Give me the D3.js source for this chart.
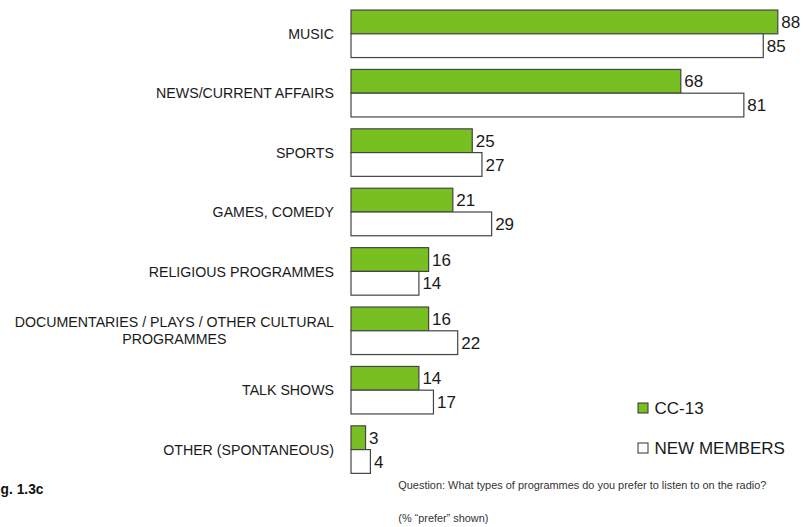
<!DOCTYPE html>
<html>
<head>
<meta charset="utf-8">
<script src="https://cdn.jsdelivr.net/npm/d3@7"></script>
<style>
  html, body { margin: 0; padding: 0; background: #fff; }
  svg { display: block; font-family: "Liberation Sans", Arial, sans-serif; }
</style>
</head>
<body>
<svg id="chart" width="803" height="527"></svg>
<script>
// Preferred radio programme types, % "prefer"
const categories = [
  "MUSIC",
  "NEWS/CURRENT AFFAIRS",
  "SPORTS",
  "GAMES, COMEDY",
  "RELIGIOUS PROGRAMMES",
  "DOCUMENTARIES / PLAYS / OTHER CULTURAL\nPROGRAMMES",
  "TALK SHOWS",
  "OTHER (SPONTANEOUS)"
];
const seriesNames = ["CC-13", "NEW MEMBERS"];
const cc13Values = [88, 68, 25, 21, 16, 16, 14, 3];
const newMemberValues = [85, 81, 27, 29, 14, 22, 17, 4];
const questionText = "Question:  What types of programmes do you prefer to listen to on the radio?";
const noteText = "(% \u201cprefer\u201d shown)";
const figureLabel = "Fig. 1.3c";

const seriesValues = [cc13Values, newMemberValues];
const fills = ["#78c022", "#ffffff"];

const svg = d3.select("#chart");

const x = d3.scaleLinear().domain([0, 100]).range([351, 836]);
const y = d3.scaleBand()
  .domain(categories)
  .range([4.1, 479.3])
  .paddingInner(0.2)
  .paddingOuter(0.1);
const ySeries = d3.scaleBand()
  .domain(seriesNames)
  .range([0, y.bandwidth()]);

const rows = categories.map((c, i) => ({
  category: c,
  bars: seriesNames.map((s, j) => ({ series: s, value: seriesValues[j][i], idx: j }))
}));

const group = svg.append("g").selectAll("g.row")
  .data(rows)
  .join("g")
  .attr("class", "row")
  .attr("transform", d => `translate(0,${y(d.category)})`);

group.selectAll("rect")
  .data(d => d.bars)
  .join("rect")
  .attr("x", x(0))
  .attr("y", d => ySeries(d.series))
  .attr("width", d => x(d.value) - x(0))
  .attr("height", ySeries.bandwidth())
  .attr("fill", d => fills[d.idx])
  .attr("stroke", "#444")
  .attr("stroke-width", 1.2);

group.selectAll("text.value")
  .data(d => d.bars)
  .join("text")
  .attr("class", "value")
  .attr("x", d => x(d.value) + 3.5)
  .attr("y", d => ySeries(d.series) + ySeries.bandwidth() / 2)
  .attr("dy", "0.36em")
  .attr("font-size", 17)
  .attr("fill", "#1a1a1a")
  .text(d => d.value);

// Category labels: block right-aligned to the bars, wrapped lines centred within the block
const labelRight = 334;
const lineHeight = 17;
rows.forEach(r => {
  const lines = r.category.split("\n");
  const cy = y(r.category) + y.bandwidth() / 2;
  const t = svg.append("text")
    .attr("font-size", 14.2)
    .attr("fill", "#1a1a1a");
  lines.forEach((ln, k) => {
    t.append("tspan")
      .attr("y", cy + (k - (lines.length - 1) / 2) * lineHeight)
      .attr("dy", "0.36em")
      .text(ln);
  });
  const spans = t.selectAll("tspan").nodes();
  const widths = spans.map(n => n.getComputedTextLength());
  const maxW = d3.max(widths);
  if (lines.length === 1) {
    t.attr("text-anchor", "end");
    t.selectAll("tspan").attr("x", labelRight);
  } else {
    t.attr("text-anchor", "middle");
    t.selectAll("tspan").attr("x", labelRight - maxW / 2);
  }
});

// Legend
const legend = svg.append("g").selectAll("g")
  .data(seriesNames)
  .join("g")
  .attr("transform", (d, i) => `translate(638,${403 + i * 40})`);
legend.append("rect")
  .attr("width", 10)
  .attr("height", 10)
  .attr("fill", (d, i) => fills[i])
  .attr("stroke", "#333")
  .attr("stroke-width", 1);
legend.append("text")
  .attr("x", 16.5)
  .attr("y", 11)
  .attr("font-size", 17)
  .attr("fill", "#1a1a1a")
  .text(d => d);

// Footnotes
svg.append("text")
  .attr("x", 398.3)
  .attr("y", 489)
  .attr("font-size", 11)
  .attr("fill", "#333")
  .attr("textLength", 368)
  .attr("lengthAdjust", "spacingAndGlyphs")
  .text(questionText);
svg.append("text")
  .attr("x", 398.3)
  .attr("y", 521.5)
  .attr("font-size", 11)
  .attr("fill", "#333")
  .attr("textLength", 90)
  .attr("lengthAdjust", "spacingAndGlyphs")
  .text(noteText);

// Figure number, running off the left margin of the page
svg.append("text")
  .attr("x", 43.5)
  .attr("y", 494)
  .attr("text-anchor", "end")
  .attr("font-size", 13.8)
  .attr("font-weight", "bold")
  .attr("fill", "#111")
  .text(figureLabel);
</script>
</body>
</html>
